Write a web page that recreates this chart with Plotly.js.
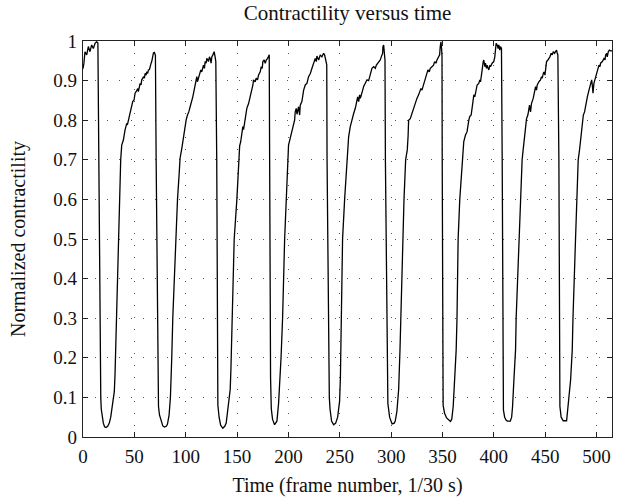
<!DOCTYPE html>
<html>
<head>
<meta charset="utf-8">
<script src="https://cdn.plot.ly/plotly-3.0.1.min.js"></script>
<style>html,body{margin:0;padding:0;background:#fff;}#chart{width:625px;height:497px;}</style>
</head>
<body>
<div id="chart"></div>
<script>
// Frame numbers (x) and normalized contractility (y)
const frames = [
0,0.9,1.9,3.6,5.2,6.8,8.4,10.1,11.7,13.3,14.5,15.2,15.9,16.6,17.3,17.8,19,19.8,21,22.4,24,25.6,27,28,29.5,30.5,31.2,31.8,32.5,33.5,34.4,35.4,36.2,36.7,
37.7,39.3,40.9,41.9,42.6,43.2,44.2,45.8,47.4,48.4,49.7,50.7,51.7,52.3,53.3,53.9,54.9,55.6,56.5,57.2,58.2,58.8,59.8,60.4,61.4,62.0,63.0,63.7,64.7,65.3,66.3,66.9,67.6,68.6,69.5,70.5,
71.2,72.0,72.5,73.0,73.5,74.5,75.7,77.7,79.3,81,82.2,83.8,85.1,85.6,86.4,87.4,88.7,90,92,93.5,94.5,
96.2,97.8,99.4,100.4,101.7,103,104.3,105.9,106.9,108.2,109.2,110.1,110.8,111.4,112.4,113.4,114.7,115.6,116.6,117.3,118.2,118.9,119.9,120.5,121.5,122.1,123.1,123.8,124.7,125.4,126.4,127,127.7,128.6,129.3,
130.2,130.5,130.8,131.3,132.5,134,136.1,138,139.4,140.5,141.7,143.3,144,144.9,146,147.2,149.8,151.4,
152.5,153.5,154.6,155.6,156.3,157.9,159.5,161.2,162.8,164.4,165.4,166,167.6,168.6,169.9,170.9,172.5,173.5,174.5,175.1,176.4,177.4,178.4,179.7,180.6,181.3,
181.7,182,182.3,182.6,183.3,184.5,186.5,188.8,190.4,192,192.8,193.7,194.3,196.3,197.6,199.5,
200.1,201.1,201.7,203.4,205,206,206.6,207.6,208.3,209.9,210.9,211.5,213.1,214.8,216.4,218,219.6,221.3,222.9,223.9,225.1,226.1,227.1,227.7,229.4,231,232.6,234.2,235.2,235.9,236.8,237.3,
237.6,238.2,239.1,239.8,240.5,242,244,246,247.9,249.8,250.6,251.1,251.4,252.7,254.7,257.6,
257.9,258.6,260.2,261.2,261.9,263.5,265.1,266.1,266.7,267.4,268.4,269.3,270,271,272.3,273.2,274.9,276.5,278.1,279.1,280.4,281.3,283,284.6,285.6,286.8,287.8,289.4,290.4,291.1,291.7,292,292.7,293.4,294,
294.4,295.2,296,296.8,298.5,300.9,303,304,305.6,307.3,308.6,309.3,311.5,312.5,314.1,
315.7,316.5,317,318.6,320.3,321.9,323.5,325.1,326.7,327.7,329,330,330.9,331.6,333.2,334.8,335.8,337.1,338.1,339.7,341.3,342.3,343.6,344.6,346.2,347.2,347.8,348.5,349.2,349.5,
349.7,350.2,350.6,352,354,357.7,359,360.4,362,363.3,364.1,365.2,366.8,369.1,370.1,
370.7,372.3,373.9,375.6,376.5,377.9,378.9,379.8,380.5,381.4,382.1,383.1,383.7,385.3,386.3,387,388,388.6,389.6,390.2,391.2,391.8,392.8,393.4,394.4,395.1,396.1,396.7,398.3,399.9,400.9,401.6,402.2,403.2,404.2,404.8,405.8,406.4,407.4,
408.1,408.6,409,409.3,410.5,412,413.2,416,417.3,418.2,419.5,421.1,421.7,424.3,425.9,427.5,428.5,
430.8,431.8,433.1,434.1,434.7,435.7,436.6,438.3,439.6,440.6,441.5,442.2,443.8,445.4,446.4,447.1,448.1,448.7,449.7,450.3,451.3,452.6,453.6,454.5,455.8,456.8,457.8,459.1,460,461,461.7,462.3,
463.3,463.9,464.3,465.5,467.5,470.8,472.4,474.7,476.3,477,479.5,480.5,482.1,483.4,
485.1,486.1,487.1,488.3,489.3,490.3,491,492.6,493.6,494.2,495.2,495.8,496.5,497.4,498.4,499.1,500.7,501.7,502.3,503.3,503.9,505.6,507.2,508.2,508.8,509.8,510.4,511.4,512.4,513.7,515
];
const contractility = [
0.93,0.944,0.973,0.965,0.986,0.973,0.99,0.981,0.994,0.998,0.995,0.75,0.45,0.2,0.1,0.07,0.045,0.035,0.026,0.024,0.027,0.035,0.05,0.07,0.095,0.115,0.16,0.22,0.3,0.42,0.5,0.6,0.66,0.7,
0.737,0.75,0.775,0.784,0.792,0.788,0.8,0.813,0.83,0.847,0.851,0.868,0.872,0.876,0.88,0.872,0.885,0.893,0.889,0.902,0.906,0.91,0.906,0.918,0.914,0.922,0.918,0.927,0.928,0.939,0.944,0.948,0.964,0.97,0.971,0.964,
0.7,0.42,0.25,0.12,0.077,0.055,0.043,0.028,0.025,0.027,0.032,0.055,0.1,0.13,0.2,0.3,0.4,0.5,0.6,0.66,0.704,
0.729,0.758,0.784,0.8,0.813,0.821,0.834,0.847,0.859,0.876,0.893,0.903,0.91,0.897,0.906,0.914,0.927,0.922,0.935,0.939,0.931,0.948,0.944,0.956,0.952,0.948,0.96,0.956,0.944,0.96,0.965,0.969,0.973,0.96,0.948,
0.7,0.4,0.2,0.08,0.05,0.03,0.022,0.027,0.035,0.06,0.085,0.12,0.17,0.28,0.4,0.5,0.6,0.7,
0.735,0.745,0.765,0.784,0.776,0.805,0.83,0.842,0.859,0.872,0.889,0.902,0.897,0.906,0.902,0.914,0.922,0.935,0.931,0.948,0.952,0.944,0.952,0.956,0.96,0.965,
0.7,0.45,0.3,0.15,0.072,0.045,0.031,0.04,0.085,0.15,0.2,0.26,0.3,0.5,0.6,0.7,
0.737,0.748,0.754,0.775,0.784,0.8,0.821,0.83,0.815,0.834,0.813,0.838,0.847,0.876,0.889,0.893,0.91,0.918,0.931,0.939,0.944,0.956,0.948,0.962,0.952,0.965,0.96,0.969,0.965,0.956,0.952,0.94,
0.7,0.5,0.3,0.1,0.07,0.04,0.031,0.035,0.05,0.09,0.15,0.22,0.3,0.5,0.6,0.7,
0.729,0.758,0.784,0.796,0.804,0.817,0.83,0.842,0.851,0.859,0.847,0.864,0.855,0.868,0.876,0.885,0.893,0.902,0.9,0.91,0.922,0.931,0.935,0.931,0.939,0.944,0.948,0.952,0.96,0.965,0.969,0.986,0.99,0.969,0.952,
0.7,0.45,0.22,0.085,0.05,0.033,0.035,0.04,0.065,0.12,0.22,0.3,0.5,0.6,0.7,
0.725,0.76,0.8,0.804,0.817,0.83,0.847,0.855,0.864,0.872,0.88,0.876,0.885,0.889,0.902,0.918,0.927,0.922,0.931,0.935,0.939,0.948,0.944,0.952,0.96,0.965,0.986,0.998,0.977,0.96,
0.7,0.3,0.08,0.06,0.048,0.039,0.045,0.077,0.144,0.22,0.3,0.5,0.6,0.7,0.725,
0.746,0.762,0.771,0.8,0.809,0.813,0.834,0.851,0.864,0.859,0.872,0.88,0.889,0.893,0.902,0.897,0.91,0.927,0.948,0.952,0.935,0.944,0.931,0.939,0.931,0.927,0.939,0.935,0.944,0.948,0.96,0.977,0.994,0.99,0.981,0.99,0.977,0.986,0.981,
0.7,0.4,0.2,0.068,0.05,0.042,0.04,0.04,0.05,0.077,0.144,0.22,0.3,0.5,0.6,0.7,0.725,
0.784,0.804,0.813,0.834,0.838,0.821,0.842,0.855,0.872,0.885,0.876,0.889,0.897,0.902,0.91,0.906,0.918,0.922,0.914,0.935,0.948,0.952,0.956,0.96,0.969,0.965,0.973,0.969,0.973,0.977,0.969,0.965,
0.7,0.22,0.077,0.05,0.041,0.041,0.077,0.144,0.22,0.3,0.5,0.6,0.7,0.725,
0.775,0.804,0.813,0.821,0.838,0.851,0.859,0.876,0.889,0.897,0.902,0.889,0.868,0.893,0.902,0.914,0.922,0.931,0.939,0.935,0.944,0.948,0.956,0.952,0.965,0.969,0.96,0.973,0.977,0.975,0.975
];
const xTicks = [0,50,100,150,200,250,300,350,400,450,500];
const yTicks = [0,0.1,0.2,0.3,0.4,0.5,0.6,0.7,0.8,0.9,1];
const yTickText = ['0','0.1','0.2','0.3','0.4','0.5','0.6','0.7','0.8','0.9','1'];

const FONT = '"Liberation Serif", "DejaVu Serif", serif';
const axisCommon = {
  showline: true, linecolor: '#222', linewidth: 1.2, mirror: 'ticks',
  ticks: 'inside', ticklen: 5, tickwidth: 1, tickcolor: '#222',
  showgrid: true, gridcolor: '#555', gridwidth: 1, griddash: '1px,11px',
  zeroline: false, tickfont: {family: FONT, size: 19, color: '#111'}
};
const layout = {
  width: 625, height: 497,
  margin: {l: 83, r: 13, t: 41, b: 60},
  paper_bgcolor: '#fff', plot_bgcolor: '#fff',
  showlegend: false,
  title: {text: 'Contractility versus time', font: {family: FONT, size: 21, color: '#111'},
          x: 0.5, xref: 'paper', xanchor: 'center', y: 1 - 13/497, yref: 'container', yanchor: 'middle'},
  xaxis: Object.assign({}, axisCommon, {
    range: [0, 515], tickvals: xTicks, ticktext: xTicks.map(String), ticklabelstandoff: 2,
    title: {text: 'Time (frame number, 1/30 s)', font: {family: FONT, size: 20, color: '#111'}, standoff: 12}
  }),
  yaxis: Object.assign({}, axisCommon, {
    range: [0, 1], tickvals: yTicks, ticktext: yTickText, ticklabelstandoff: 1,
    title: {text: 'Normalized contractility', font: {family: FONT, size: 20, color: '#111'}, standoff: 22}
  })
};
Plotly.newPlot('chart', [{
  x: frames, y: contractility, type: 'scatter', mode: 'lines',
  line: {color: '#000', width: 1.3}, hoverinfo: 'skip'
}], layout, {staticPlot: true, displayModeBar: false});
</script>
</body>
</html>
